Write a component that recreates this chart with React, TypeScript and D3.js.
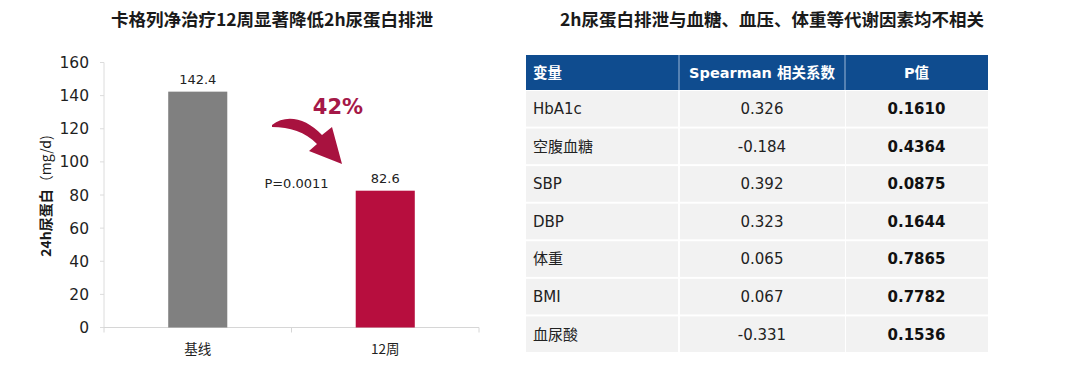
import React from "react";
import * as d3 from "d3";

const categories = ["基线", "12周"];
const values = [142.4, 82.6];
const barColors = ["#808080", "#B70E3E"];
const yTicks = [0, 20, 40, 60, 80, 100, 120, 140, 160];

const tableHeaders = ["变量", "Spearman 相关系数", "P值"];
const variables = ["HbA1c", "空腹血糖", "SBP", "DBP", "体重", "BMI", "血尿酸"];
const rhoValues = ["0.326", "-0.184", "0.392", "0.323", "0.065", "0.067", "-0.331"];
const pValues = ["0.1610", "0.4364", "0.0875", "0.1644", "0.7865", "0.7782", "0.1536"];

const NUM_FONT = "'DejaVu Sans', 'Noto Sans CJK SC', sans-serif";
const CJK_FONT = "'Noto Sans CJK SC', sans-serif";

export default function App() {
  const y = d3.scaleLinear().domain([0, 160]).range([327.5, 62.5]);
  const x = d3.scaleBand<string>().domain(categories).range([104, 479]).padding(0);
  const barW = x.bandwidth() * 0.315;

  const cols = [526, 679, 845, 988];
  const headerTop = 55;
  const headerH = 35;
  const rowY = d3
    .scaleBand<number>()
    .domain(d3.range(variables.length))
    .range([headerTop + headerH, 353])
    .padding(0);

  const x0 = x(categories[0])! + x.bandwidth() / 2;
  const x1 = x(categories[1])! + x.bandwidth() / 2;

  return (
    <svg
      width={1080}
      height={367}
      style={{ position: "absolute", left: 0, top: 0, background: "#fff" }}
    >
      {/* Left title */}
      <text
        x={272}
        y={26}
        textAnchor="middle"
        fontFamily={CJK_FONT}
        fontWeight="bold"
        fontSize={17.5}
        fill="#1a1a1a"
      >
        卡格列净治疗12周显著降低2h尿蛋白排泄
      </text>
      {/* Right title */}
      <text
        x={772}
        y={26}
        textAnchor="middle"
        fontFamily={CJK_FONT}
        fontWeight="bold"
        fontSize={17.5}
        fill="#1a1a1a"
      >
        2h尿蛋白排泄与血糖、血压、体重等代谢因素均不相关
      </text>

      {/* Y axis */}
      <line x1={104} x2={104} y1={y(160)} y2={y(0)} stroke="#dcdcdc" strokeWidth={1} />
      {yTicks.map((t) => (
        <g key={t}>
          <line x1={100} x2={104} y1={y(t)} y2={y(t)} stroke="#dcdcdc" />
          <text
            x={89}
            y={y(t)}
            dy="0.36em"
            textAnchor="end"
            fontFamily={NUM_FONT}
            fontSize={15.5}
            fill="#1f1f1f"
          >
            {t}
          </text>
        </g>
      ))}
      {/* X axis baseline */}
      <line x1={104} x2={479} y1={y(0)} y2={y(0)} stroke="#d6d6d6" strokeWidth={1} />
      {[104, x.step() + 104, 479].map((tx, i) => (
        <line key={i} x1={tx} x2={tx} y1={y(0)} y2={y(0) + 5} stroke="#d6d6d6" />
      ))}

      {/* Y label */}
      <text
        transform={`translate(51,196) rotate(-90)`}
        textAnchor="middle"
        fontFamily={CJK_FONT}
        fontSize={14}
        fill="#1a1a1a"
      >
        <tspan fontWeight="bold">24h尿蛋白</tspan>
        <tspan fontWeight="normal">（mg/d)</tspan>
      </text>

      {/* Bars */}
      {categories.map((c, i) => {
        const cx = x(c)! + x.bandwidth() / 2;
        return (
          <g key={c}>
            <rect
              x={cx - barW / 2}
              y={y(values[i])}
              width={barW}
              height={y(0) - y(values[i])}
              fill={barColors[i]}
            />
            <text
              x={cx}
              y={y(values[i]) - 8}
              textAnchor="middle"
              fontFamily={NUM_FONT}
              fontSize={13}
              fill="#222"
            >
              {values[i].toFixed(1)}
            </text>
            <text
              x={cx}
              y={354}
              textAnchor="middle"
              fontFamily={CJK_FONT}
              fontSize={13.5}
              fill="#222"
            >
              {c}
            </text>
          </g>
        );
      })}

      {/* Annotation */}
      <text
        x={338}
        y={114}
        textAnchor="middle"
        fontFamily={NUM_FONT}
        fontWeight="bold"
        fontSize={21}
        fill="#A51848"
      >
        42%
      </text>
      <path
        d="M272,125 C286,114 306,118 322,135 L332,127 L342,164 L309,151 L317,144 C305,132 290,127 272,127 Z"
        fill="#A8123F"
      />
      <text
        x={(x0 + x1) / 2 + 5}
        y={188}
        textAnchor="middle"
        fontFamily={NUM_FONT}
        fontSize={13}
        fill="#222"
      >
        P=0.0011
      </text>

      {/* Table header */}
      <rect x={cols[0]} y={headerTop} width={cols[3] - cols[0]} height={headerH} fill="#0F4C8F" />
      {[cols[1], cols[2]].map((cx, i) => (
        <line key={i} x1={cx} x2={cx} y1={headerTop} y2={headerTop + headerH} stroke="#9DB6D6" strokeWidth={1} />
      ))}
      {tableHeaders.map((h, i) => (
        <text
          key={h}
          x={i === 0 ? cols[0] + 7 : (cols[i] + cols[i + 1]) / 2}
          y={headerTop + headerH / 2}
          dy="0.36em"
          textAnchor={i === 0 ? "start" : "middle"}
          fontFamily={NUM_FONT}
          fontWeight="bold"
          fontSize={14.5}
          fill="#fff"
        >
          {h}
        </text>
      ))}

      {/* Table rows */}
      {variables.map((v, r) => {
        const top = rowY(r)!;
        const h = rowY.bandwidth();
        const cy = top + h / 2;
        return (
          <g key={v}>
            {[0, 1, 2].map((ci) => (
              <rect
                key={ci}
                x={cols[ci] + (ci === 0 ? 0 : 1)}
                y={top + 1}
                width={cols[ci + 1] - cols[ci] - 1}
                height={h - 2}
                fill="#F2F2F2"
              />
            ))}
            <text
              x={cols[0] + 7}
              y={cy}
              dy="0.36em"
              fontFamily={NUM_FONT}
              fontSize={15}
              fill="#222"
            >
              {v}
            </text>
            <text
              x={(cols[1] + cols[2]) / 2}
              y={cy}
              dy="0.36em"
              textAnchor="middle"
              fontFamily={NUM_FONT}
              fontSize={15}
              fill="#222"
            >
              {rhoValues[r]}
            </text>
            <text
              x={(cols[2] + cols[3]) / 2}
              y={cy}
              dy="0.36em"
              textAnchor="middle"
              fontFamily={NUM_FONT}
              fontWeight="bold"
              fontSize={15}
              fill="#111"
            >
              {pValues[r]}
            </text>
          </g>
        );
      })}
    </svg>
  );
}
